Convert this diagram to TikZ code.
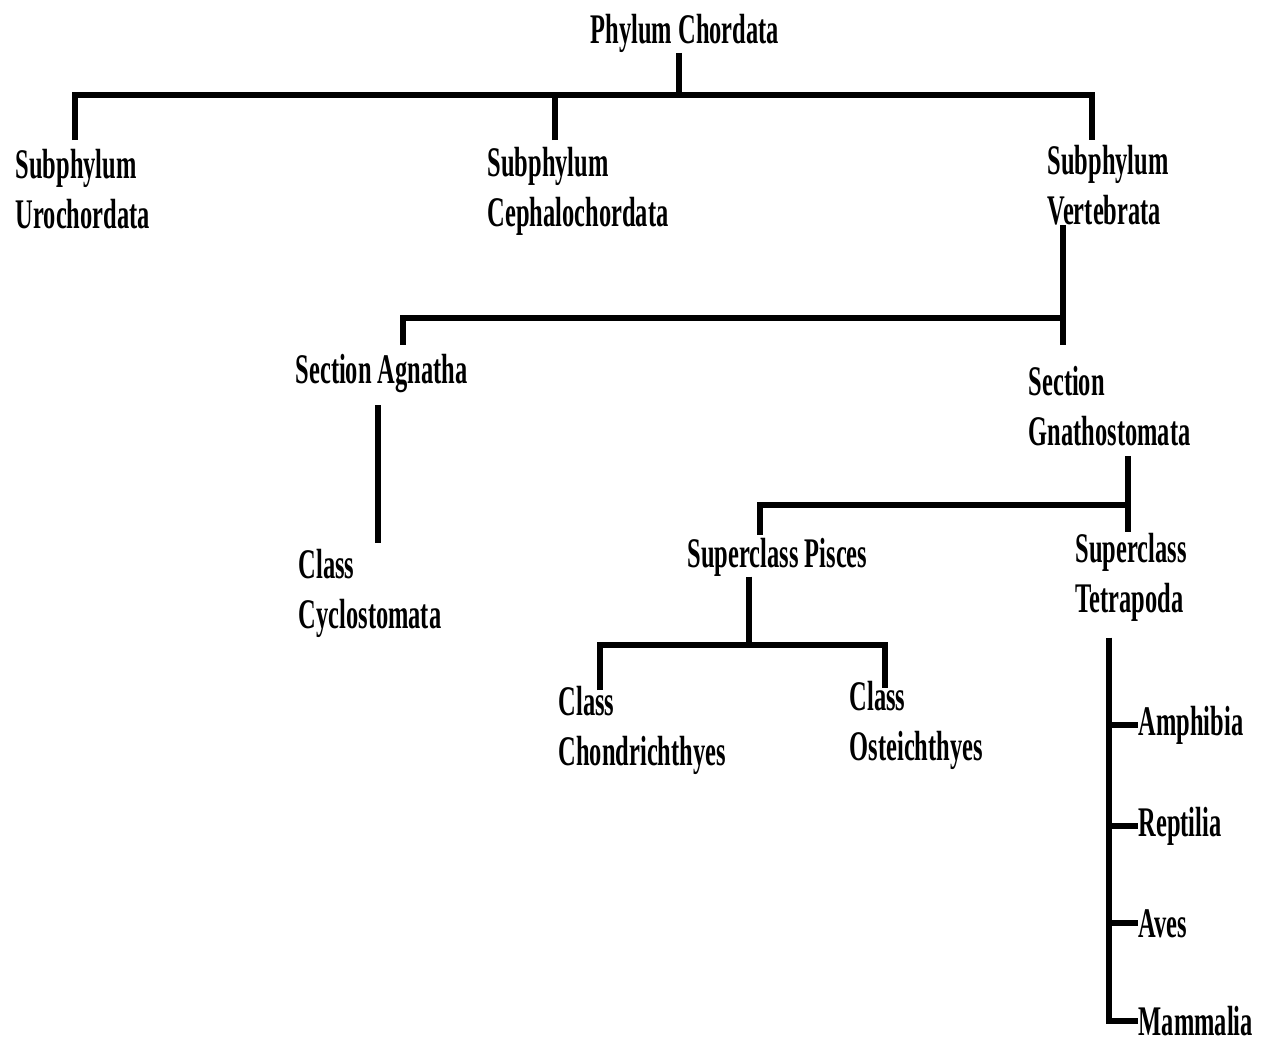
\documentclass[tikz,border=0pt]{standalone}
\usepackage{fontspec}
\newfontfamily\taxfont[FakeStretch=0.58]{Liberation Serif}
\tikzstyle{every node}=[inner sep=0pt,anchor=base west,align=left,
    font=\taxfont\bfseries\fontsize{12pt}{14.2pt}\selectfont]
\tikzstyle{branch}=[draw=black,line width=1.7pt]

\begin{document}
\begin{tikzpicture}
    \useasboundingbox (0,0) rectangle (12.66,-10.44);
    % taxa (two-line labels sit on their last baseline)
    \node (chordata) at (5.90,-0.43) {Phylum Chordata};
    \node (uro) at (0.15,-2.28) {Subphylum\\Urochordata};
    \node (cephalo) at (4.87,-2.26) {Subphylum\\Cephalochordata};
    \node (verteb) at (10.47,-2.24) {Subphylum\\Vertebrata};
    \node (agnatha) at (2.95,-3.83) {Section Agnatha};
    \node (cyclo) at (2.98,-6.28) {Class\\Cyclostomata};
    \node (gnatho) at (10.28,-4.45) {Section\\Gnathostomata};
    \node (pisces) at (6.87,-5.67) {Superclass Pisces};
    \node (tetra) at (10.75,-6.12) {Superclass\\Tetrapoda};
    \node (chondri) at (5.58,-7.65) {Class\\Chondrichthyes};
    \node (osteich) at (8.49,-7.60) {Class\\Osteichthyes};
    \node (amphibia) at (11.38,-7.35) {Amphibia};
    \node (reptilia) at (11.38,-8.36) {Reptilia};
    \node (aves) at (11.38,-9.37) {Aves};
    \node (mammalia) at (11.38,-10.35) {Mammalia};

    % junctions
    \coordinate (c0) at (6.79,-0.95);
    \coordinate (u0) at (0.75,-1.40);
    \coordinate (ce0) at (5.55,-1.40);
    \coordinate (v0) at (10.92,-1.40);
    \coordinate (v1) at (10.63,-3.18);
    \coordinate (a0) at (4.03,-3.45);
    \coordinate (a1) at (3.78,-4.05);
    \coordinate (a2) at (3.78,-5.43);
    \coordinate (g1) at (11.28,-5.05);
    \coordinate (p0) at (7.60,-5.35);
    \coordinate (p1) at (7.49,-6.45);
    \coordinate (ch0) at (6.00,-6.90);
    \coordinate (os0) at (8.85,-6.88);
    \coordinate (t0) at (11.09,-6.37);

    % branches
    \draw[branch] (chordata.south -| c0) -- (c0);
    \draw[branch] (u0) |- (c0) -| (v0);
    \draw[branch] (ce0) -- (ce0 |- c0);
    \draw[branch] (verteb.south -| v1) -- ([yshift=2mm]gnatho.north -| v1);
    \draw[branch] (v1) -| (a0);
    \draw[branch] (a1) -- (a2);
    \draw[branch] ([yshift=-1mm]gnatho.south -| g1) -- (tetra.north -| g1);
    \draw[branch] (g1) -| (p0);
    \draw[branch] (pisces.south -| p1) -- (p1);
    \draw[branch] (ch0) |- (p1) -| (os0);
    \draw[branch] ([yshift=-1.6mm]tetra.south -| t0) |- (mammalia.west);
    \foreach \n in {amphibia,reptilia,aves}
        \draw[branch] (\n.west -| t0) -- (\n.west);
\end{tikzpicture}
\end{document}
